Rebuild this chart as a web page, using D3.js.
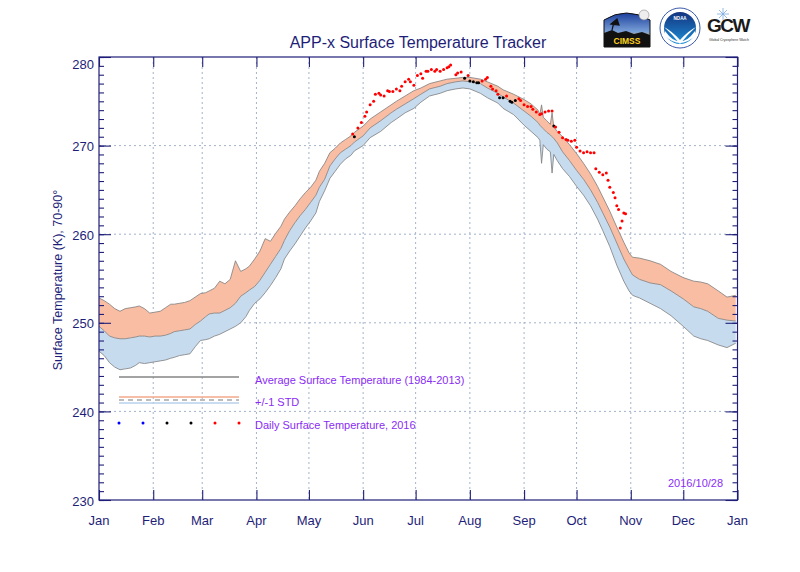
<!DOCTYPE html>
<html><head><meta charset="utf-8">
<script src="https://cdn.jsdelivr.net/npm/d3@7"></script>
<style>body{margin:0;background:#fff} svg{display:block}</style>
</head><body>
<svg id="chart" width="800" height="572"></svg>
<script>
// ---- climatology (1984-2013), 70-90N, K ----
const climDays  = [0,3,6,9,12,15,18,21,23,26,29,32,35,38,41,43,46,49,52,55,58,61,63,66,69,72,75,78,81,84,86,89,92,95,98,101,104,106,109,112,115,118,121,124,126,129,132,135,138,141,144,146,151,155,161,167,170,175,180,184,189,195,199,204,208,212,218,222,228,231,237,243,247,251,252,253,254,256,258,259,260,262,265,269,273,277,281,285,288,292,296,300,303,305,309,315,321,327,334,340,344,348,354,359,364];
const climUpper = [252.8,252.5,252.1,251.6,251.3,251.6,251.7,251.8,251.9,251.6,251.1,251.2,251.3,251.7,252.1,252.1,252.2,252.3,252.5,252.9,253.3,253.4,253.6,253.9,254.7,254.4,254.9,257.0,255.8,256.1,256.4,257.2,258.1,259.5,259.2,260.1,260.9,261.7,262.5,263.2,264.0,264.7,265.3,266.1,267.1,268.0,269.2,269.7,270.3,270.7,271.1,271.5,272.2,273.0,273.8,274.6,275.0,275.6,276.2,276.5,277.0,277.3,277.5,277.6,277.7,277.7,277.5,277.2,276.7,276.3,275.8,275.2,274.7,274.0,273.5,274.6,273.2,272.8,272.4,273.7,272.1,271.6,271.0,270.1,269.1,268.0,266.8,265.4,264.2,262.6,260.8,259.1,257.9,257.4,257.3,257.0,256.6,255.8,255.1,254.7,254.6,254.4,253.6,252.9,253.1];
const climMean  = [249.6,249.1,248.5,248.3,248.2,248.2,248.3,248.4,248.5,248.5,248.4,248.5,248.5,248.6,248.8,249.0,249.1,249.2,249.3,249.8,250.2,250.7,251.0,251.1,251.1,251.4,251.7,252.2,253.0,253.4,253.7,254.1,254.8,255.7,256.6,257.5,258.4,259.3,260.4,261.3,262.1,262.8,263.6,264.4,265.3,266.2,267.7,268.5,269.2,269.6,270.0,270.4,271.1,272.0,272.8,273.7,274.1,274.7,275.3,275.8,276.4,276.7,277.0,277.2,277.3,277.2,277.0,276.5,275.9,275.5,274.8,273.9,273.3,272.6,272.3,272.1,271.9,271.5,271.2,271.0,270.8,270.3,269.3,268.3,267.2,266.2,265.0,263.6,262.4,260.8,259.0,257.2,256.1,255.4,254.9,254.5,254.3,253.6,252.7,251.8,251.6,251.3,250.5,250.3,250.2];
const climLower = [246.8,246.3,245.5,245.0,244.7,244.8,244.9,245.2,245.5,245.4,245.5,245.6,245.7,245.8,246.0,246.1,246.3,246.4,246.5,247.3,248.0,248.1,248.2,248.5,248.7,249.0,249.3,249.6,250.0,250.7,251.4,252.2,252.7,253.4,254.2,255.1,256.1,257.2,258.1,258.9,259.8,260.7,261.5,262.4,263.7,264.9,266.3,267.1,267.9,268.5,268.9,269.4,270.0,270.9,271.6,272.6,273.0,273.7,274.2,274.9,275.6,275.9,276.2,276.4,276.5,276.4,275.9,275.4,274.8,274.2,273.5,272.3,271.6,270.9,270.6,268.0,270.1,269.6,269.3,266.9,269.0,268.3,267.4,266.5,265.4,264.4,263.2,261.7,260.4,258.6,256.5,254.7,253.6,253.1,252.8,252.2,251.6,250.8,249.6,248.5,248.2,248.0,247.5,247.2,247.7];

// ---- daily 2016 ----
const dailyDays  = [145,146,148,150,152,153,155,157,158,160,161,163,165,166,168,170,172,173,175,177,178,180,182,184,185,187,188,190,192,193,195,197,199,200,201,204,205,207,209,211,212,214,216,217,219,221,222,224,225,227,228,229,231,233,235,236,238,240,241,243,245,247,248,250,252,253,255,257,259,260,261,263,265,267,268,270,272,273,275,277,279,281,283,284,286,288,290,291,292,294,295,296,297,298,299,300,301];
const dailyTemps = [271.3,271.0,272.0,272.6,273.3,273.8,274.6,275.0,275.8,275.9,275.7,275.6,276.2,276.1,276.1,276.4,276.2,276.7,277.2,277.5,277.2,276.8,277.9,278.1,277.6,278.4,278.4,278.6,278.4,278.6,278.4,278.6,278.8,278.9,279.1,278.0,278.2,278.3,277.6,277.9,277.3,277.2,277.1,277.1,277.3,277.5,277.7,276.7,276.4,276.2,275.8,275.4,275.4,275.6,275.0,274.9,275.1,275.3,275.1,274.6,274.4,274.4,274.1,273.8,273.5,273.6,273.8,273.9,273.9,272.2,272.1,271.5,270.9,270.7,270.6,270.5,270.6,269.8,269.4,269.2,269.3,269.2,269.2,267.4,267.0,266.7,266.9,266.1,265.3,264.7,264.1,263.2,262.8,260.7,261.5,262.4,262.3];
// category relative to climatology: "above" (> +1 STD), "within", "below"
const dailyClass = ["above","within","above","above","above","above","above","above","above","above","above","above","above","above","above","above","above","above","above","above","above","above","above","above","above","above","above","above","above","above","above","above","above","above","above","above","above","above","within","above","within","within","within","within","above","above","above","above","above","above","above","within","within","above","within","within","within","above","above","above","above","above","above","above","above","above","above","above","above","within","above","above","above","above","above","above","above","above","above","above","above","above","above","above","above","above","above","above","above","above","above","above","above","above","above","above","above"];

const monthStarts = [0,31,59,90,120,151,181,212,243,273,304,334,365];
const monthLabels = ["Jan","Feb","Mar","Apr","May","Jun","Jul","Aug","Sep","Oct","Nov","Dec","Jan"];
const yMajor = [230,240,250,260,270,280];
const yMinor = d3.range(230,281,1);
const titleText = "APP-x Surface Temperature Tracker";
const yTitle = "Surface Temperature (K), 70-90°";
const legendTexts = ["Average Surface Temperature (1984-2013)","+/-1 STD","Daily Surface Temperature, 2016"];
const dateText = "2016/10/28";

// ---- drawing ----
const FONT = "'Liberation Sans', Arial, Helvetica, sans-serif";
const NAVY = "#1e1e78";
const PURPLE = "#8a2cf5";
const SALMON = "#f9bda3";
const LBLUE = "#c7dbef";
const EDGE = "#7d7d7d";
const GRID = "#a3b3cb";
const clsColor = {above:"#ff0000", within:"#000000", below:"#0000ff"};

const L = 99, R = 737.5, T = 57, B = 500;
const svg = d3.select("#chart").style("font-family", FONT);
const x = d3.scaleLinear().domain([0,365]).range([L,R]);
const y = d3.scaleLinear().domain([230,280]).range([B,T]);

const clim = climDays.map((d,i)=>({d, u:climUpper[i], m:climMean[i], l:climLower[i]}));

// grid
const g = svg.append("g");
g.selectAll("line.vg").data(monthStarts.slice(1,-1)).join("line")
  .attr("x1",d=>x(d)).attr("x2",d=>x(d)).attr("y1",T).attr("y2",B)
  .attr("stroke",GRID).attr("stroke-width",1).attr("stroke-dasharray","2,3");
g.selectAll("line.hg").data(yMajor.slice(1,-1)).join("line")
  .attr("x1",L).attr("x2",R).attr("y1",d=>y(d)).attr("y2",d=>y(d))
  .attr("stroke",GRID).attr("stroke-width",1).attr("stroke-dasharray","2,3");

// bands
const areaUp = d3.area().x(d=>x(d.d)).y0(d=>y(d.m)).y1(d=>y(d.u));
const areaLo = d3.area().x(d=>x(d.d)).y0(d=>y(d.l)).y1(d=>y(d.m));
svg.append("path").datum(clim).attr("d",areaLo).attr("fill",LBLUE);
svg.append("path").datum(clim).attr("d",areaUp).attr("fill",SALMON);
["u","m","l"].forEach(k=>{
  svg.append("path").datum(clim)
    .attr("d", d3.line().x(d=>x(d.d)).y(d=>y(d[k])))
    .attr("fill","none").attr("stroke",EDGE).attr("stroke-width",0.8);
});

// daily dots
const daily = dailyDays.map((d,i)=>({d, v:dailyTemps[i], c:dailyClass[i]}));
svg.append("g").selectAll("circle").data(daily).join("circle")
  .attr("cx",d=>x(d.d)).attr("cy",d=>y(d.v)).attr("r",1.5)
  .attr("fill",d=>clsColor[d.c]);

// frame
svg.append("rect").attr("x",L).attr("y",T).attr("width",R-L).attr("height",B-T)
  .attr("fill","none").attr("stroke",NAVY).attr("stroke-width",1.2);

function styleAxis(sel){
  sel.select(".domain").remove();
  sel.selectAll("line").attr("stroke",NAVY).attr("stroke-width",1.1);
  sel.selectAll("text").remove();
}
// month ticks top & bottom
svg.append("g").attr("transform",`translate(0,${T})`)
  .call(d3.axisBottom(x).tickValues(monthStarts).tickSize(10)).call(styleAxis);
svg.append("g").attr("transform",`translate(0,${B})`)
  .call(d3.axisTop(x).tickValues(monthStarts).tickSize(10)).call(styleAxis);
// y ticks left & right
svg.append("g").attr("transform",`translate(${L},0)`)
  .call(d3.axisRight(y).tickValues(yMinor).tickSize(5)).call(styleAxis);
svg.append("g").attr("transform",`translate(${L},0)`)
  .call(d3.axisRight(y).tickValues(yMajor).tickSize(12)).call(styleAxis);
svg.append("g").attr("transform",`translate(${R},0)`)
  .call(d3.axisLeft(y).tickValues(yMinor).tickSize(5)).call(styleAxis);
svg.append("g").attr("transform",`translate(${R},0)`)
  .call(d3.axisLeft(y).tickValues(yMajor).tickSize(12)).call(styleAxis);

// tick labels
svg.append("g").selectAll("text").data(yMajor).join("text")
  .attr("x",94).attr("y",d=>Math.max(y(d)+1, 64)).attr("dy","0.35em")
  .attr("text-anchor","end").attr("font-size",13).attr("fill",NAVY).text(d=>d);
svg.append("g").selectAll("text").data(monthStarts).join("text")
  .attr("x",(d,i)=>x(d)).attr("y",525)
  .attr("text-anchor","middle").attr("font-size",13).attr("fill",NAVY).text((d,i)=>monthLabels[i]);

// titles
svg.append("text").attr("x",418).attr("y",48).attr("text-anchor","middle")
  .attr("font-size",16).attr("fill",NAVY).text(titleText);
svg.append("text").attr("transform","translate(62,280) rotate(-90)").attr("text-anchor","middle")
  .attr("font-size",12.5).attr("fill",NAVY).text(yTitle);

// legend
const lg = svg.append("g");
lg.append("line").attr("x1",119).attr("x2",239).attr("y1",377).attr("y2",377).attr("stroke","#858585").attr("stroke-width",1.5);
lg.append("line").attr("x1",119).attr("x2",239).attr("y1",397).attr("y2",397).attr("stroke","#f4a98a").attr("stroke-width",1.5);
lg.append("line").attr("x1",119).attr("x2",239).attr("y1",400).attr("y2",400).attr("stroke","#7d7d7d").attr("stroke-width",1.2).attr("stroke-dasharray","5,4");
lg.append("line").attr("x1",119).attr("x2",239).attr("y1",403).attr("y2",403).attr("stroke","#b9d1ea").attr("stroke-width",1.5);
const lgDots = [["below",119],["below",143],["within",167],["within",191],["above",215],["above",239]];
lg.selectAll("circle").data(lgDots).join("circle").attr("cx",d=>d[1]).attr("cy",423).attr("r",1.5).attr("fill",d=>clsColor[d[0]]);
lg.selectAll("text").data(legendTexts).join("text").attr("x",255).attr("y",(d,i)=>[380,402,425][i]).attr("dy","0.35em")
  .attr("font-size",11).attr("fill",PURPLE).text(d=>d);
svg.append("text").attr("x",668).attr("y",483).attr("dy","0.35em").attr("font-size",11).attr("fill",PURPLE).text(dateText);

// logos
const defs = svg.append("defs");
const gr1 = defs.append("linearGradient").attr("id","sky").attr("x1",0).attr("y1",0).attr("x2",0).attr("y2",1);
gr1.append("stop").attr("offset","0%").attr("stop-color","#1b3f9c");
gr1.append("stop").attr("offset","55%").attr("stop-color","#7aa0d8");
gr1.append("stop").attr("offset","80%").attr("stop-color","#f5a53a");
gr1.append("stop").attr("offset","100%").attr("stop-color","#e0662a");
const cim = svg.append("g");
cim.append("path").attr("d","M604,47 L604,20 Q626,6 650,20 L650,47 Z").attr("fill","url(#sky)").attr("stroke","#111").attr("stroke-width",1);
cim.append("path").attr("d","M604,47 L604,33 L612,30 L618,33 L626,31 L634,34 L642,32 L650,35 L650,47 Z").attr("fill","#111");
cim.append("circle").attr("cx",644).attr("cy",15).attr("r",5).attr("fill","#eee").attr("stroke","#888").attr("stroke-width",0.6);
cim.append("path").attr("d","M611,24 l6,-5 l2,6 z M614,22 l-2,8").attr("fill","#111").attr("stroke","#111").attr("stroke-width",1.2);
cim.append("text").attr("x",627).attr("y",43.5).attr("text-anchor","middle").attr("font-size",8.5).attr("font-weight","bold").attr("fill","#ffd21a").text("CIMSS");

const gr2 = defs.append("linearGradient").attr("id","noaa").attr("x1",0).attr("y1",0).attr("x2",0).attr("y2",1);
gr2.append("stop").attr("offset","0%").attr("stop-color","#14337f");
gr2.append("stop").attr("offset","100%").attr("stop-color","#1d8fd6");
const no = svg.append("g");
no.append("circle").attr("cx",680).attr("cy",28).attr("r",20).attr("fill","#fff").attr("stroke","#3b5aa8").attr("stroke-width",1);
no.append("circle").attr("cx",680).attr("cy",28).attr("r",16).attr("fill","url(#noaa)");
no.append("path").attr("d","M664,27 Q672,31 680,40 Q688,31 696,27 Q688,34 680,44 Q672,34 664,27 Z").attr("fill","#fff");
no.append("path").attr("d","M665,31 Q680,52 695,31 L695,36 Q680,50 665,36 Z").attr("fill","#fff");
no.append("text").attr("x",680).attr("y",20).attr("text-anchor","middle").attr("font-size",4.5).attr("font-weight","bold").attr("fill","#fff").text("NOAA");

const gc = svg.append("g");
gc.append("text").attr("x",707).attr("y",32).attr("font-size",19).attr("font-weight","bold").attr("letter-spacing","-1.5").attr("fill","#1a1a1a").text("GCW");
gc.append("path").attr("d","M723,8 L723,20 M717,14 L729,14 M719,10 L727,18 M727,10 L719,18").attr("stroke","#7aa9e0").attr("stroke-width",0.8);
gc.append("text").attr("x",709).attr("y",41).attr("font-size",3.5).attr("fill","#333").text("Global Cryosphere Watch");
</script>
</body></html>
